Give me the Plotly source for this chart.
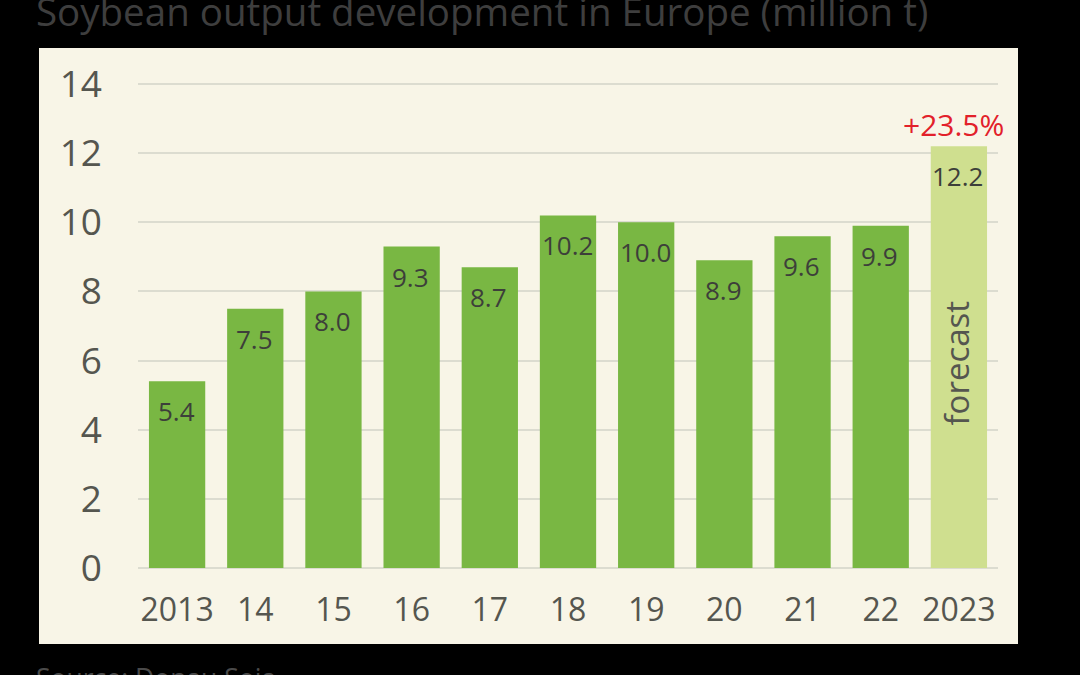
import plotly.graph_objects as go

years = ['2013', '14', '15', '16', '17', '18', '19', '20', '21', '22', '2023']
output = [5.4, 7.5, 8.0, 9.3, 8.7, 10.2, 10.0, 8.9, 9.6, 9.9, 12.2]
y_ticks = [0, 2, 4, 6, 8, 10, 12, 14]

FONT = 'Open Sans'
bar_colors = ['#79b743'] * 10 + ['#cfdf8f']

fig = go.Figure(go.Bar(
    x=years,
    y=output,
    marker=dict(color=bar_colors, line=dict(width=0)),
    hoverinfo='skip',
))

# value labels sit a fixed distance under each bar top
# annotations use the category index, numeric-looking names get read as positions
last = len(years) - 1
annotations = [
    dict(x=i, y=val, text=f'{val:.1f}', showarrow=False, yshift=-30, xshift=-1,
         font=dict(family=FONT, size=26, color='#3d3f3a'))
    for i, val in enumerate(output)
]
annotations += [
    dict(x=last, y=output[-1], text='+23.5%', showarrow=False, yshift=22, xshift=-5,
         font=dict(family=FONT, size=30, color='#e2202a')),
    dict(x=last, y=6, text='forecast', showarrow=False, textangle=-90, yshift=-2, xshift=-2,
         font=dict(family=FONT, size=33, color='#55564f')),
    dict(xref='paper', yref='paper', x=-0.1210, y=1.149, xanchor='left', yanchor='middle',
         text='Soybean output development in Europe (million t)', showarrow=False,
         font=dict(family=FONT, size=38.5, color='#3e3e3e')),
    dict(xref='paper', yref='paper', x=-0.1210, y=-0.227, xanchor='left', yanchor='middle',
         text='Source: Donau Soja', showarrow=False,
         font=dict(family=FONT, size=26.5, color='#4a4a4a')),
]

fig.update_layout(
    width=1080,
    height=675,
    paper_bgcolor='black',
    plot_bgcolor='#f8f5e7',
    margin=dict(l=138, r=82, t=83, b=107),
    bargap=0.28,
    showlegend=False,
    xaxis=dict(
        type='category',
        categoryorder='array',
        categoryarray=years,
        range=[-0.5, last + 0.5],
        showgrid=False,
        showline=False,
        ticks='',
        ticklabelstandoff=20,
        tickfont=dict(family=FONT, size=32, color='#55564f'),
    ),
    yaxis=dict(
        range=[0, 14.03],  # a bit over 14, otherwise the top gridline is dropped
        tickvals=y_ticks,
        gridcolor='#dcdcd0',
        gridwidth=2,
        zeroline=True,
        zerolinecolor='#dcdcd0',
        zerolinewidth=2,
        ticklabelstandoff=35,
        tickfont=dict(family=FONT, size=37, color='#55564f'),
    ),
    annotations=annotations,
    shapes=[dict(
        type='rect', xref='paper', yref='paper', layer='below',
        x0=(39 - 138) / 860, x1=(1018 - 138) / 860,
        y0=(568 - 644) / 485, y1=(568 - 48) / 485,
        fillcolor='#f8f5e7', line=dict(width=0),
    )],
)

fig.write_html(
    "out.html",
    config=dict(displayModeBar=False),
    post_script="document.body.style.margin='0'; document.body.style.background='black';",
)
